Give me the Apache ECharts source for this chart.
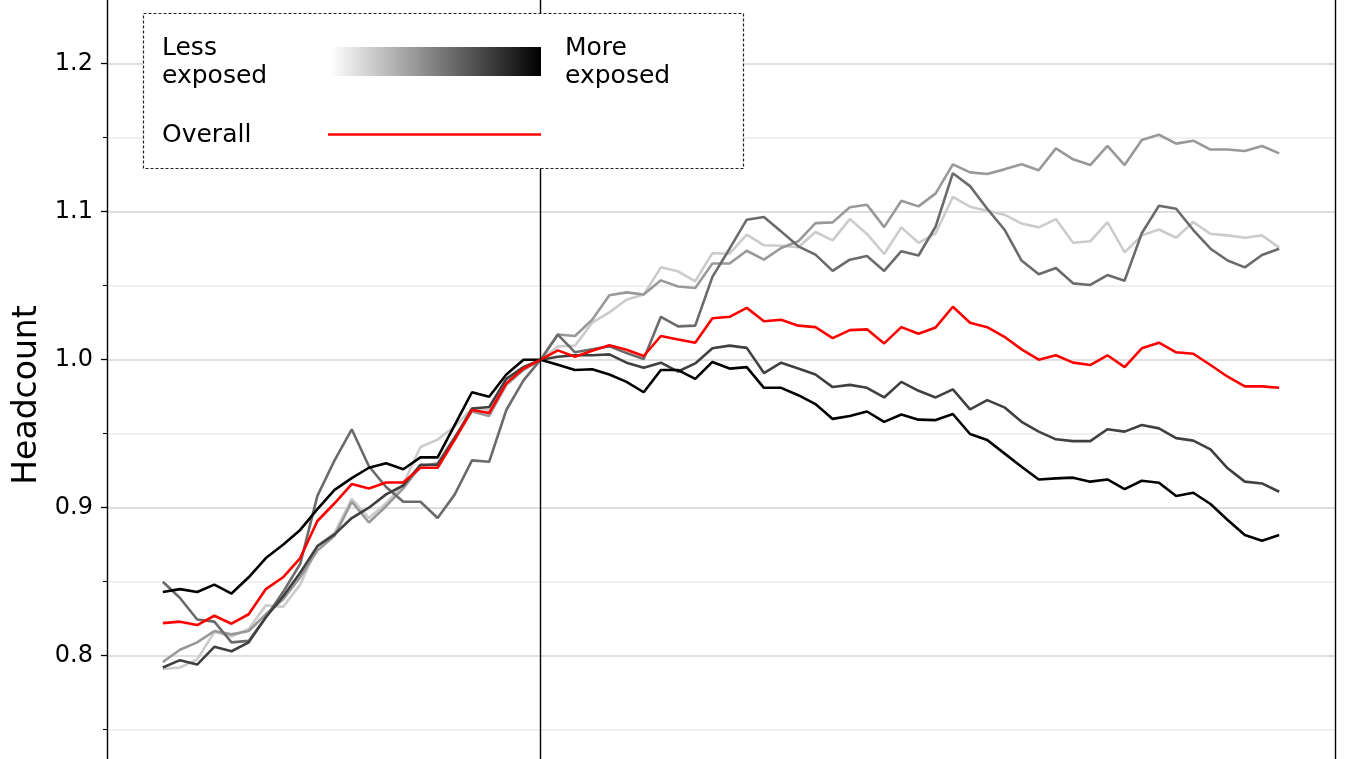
<!DOCTYPE html>
<html>
<head>
<meta charset="utf-8">
<script src="https://cdn.jsdelivr.net/npm/echarts@6/dist/echarts.min.js"></script>
<style>html,body{margin:0;padding:0;background:#fff}#c{width:1350px;height:759px}</style>
</head>
<body>
<div id="c"></div>
<script>
const periods = [-22,-21,-20,-19,-18,-17,-16,-15,-14,-13,-12,-11,-10,-9,-8,-7,-6,-5,-4,-3,-2,-1,0,
  1,2,3,4,5,6,7,8,9,10,11,12,13,14,15,16,17,18,19,20,21,22,23,24,25,26,27,28,29,30,31,32,33,34,35,36,37,38,39,40,41,42,43];

const leastExposed = [0.791,0.792,0.7975,0.816,0.813,0.818,0.834,0.833,0.848,0.874,0.883,0.906,0.893,0.903,0.916,0.941,0.946,0.955,0.967,0.966,0.986,0.995,1.0,
  1.009,1.0095,1.025,1.032,1.0405,1.044,1.0624,1.0597,1.053,1.072,1.0716,1.0845,1.0773,1.077,1.076,1.0863,1.0806,1.095,1.085,1.0714,1.0894,1.079,1.0854,1.110,1.1034,1.1007,1.098,1.092,1.0894,1.095,1.079,1.080,1.093,1.0725,1.084,1.088,1.0824,1.093,1.085,1.084,1.0824,1.084,1.0757];

const lessExposed = [0.7957,0.804,0.809,0.8167,0.8144,0.8167,0.828,0.838,0.853,0.871,0.881,0.904,0.890,0.901,0.913,0.928,0.930,0.948,0.965,0.962,0.983,0.993,1.0,
  1.017,1.016,1.027,1.0435,1.0455,1.044,1.0536,1.0495,1.0484,1.065,1.065,1.0736,1.0676,1.0755,1.080,1.0923,1.0928,1.103,1.1047,1.0896,1.1074,1.1036,1.1124,1.132,1.1266,1.1255,1.1286,1.132,1.128,1.1428,1.1354,1.1315,1.1444,1.1315,1.1484,1.152,1.146,1.148,1.142,1.142,1.141,1.1444,1.1394];

const middleExposed = [0.850,0.839,0.8245,0.823,0.809,0.810,0.826,0.843,0.862,0.908,0.932,0.953,0.928,0.914,0.904,0.904,0.893,0.909,0.932,0.931,0.966,0.986,1.0,
  1.017,1.005,1.007,1.009,1.0045,1.0005,1.029,1.0225,1.023,1.056,1.075,1.0946,1.0964,1.0867,1.0766,1.071,1.060,1.0676,1.070,1.060,1.0733,1.0704,1.090,1.126,1.1173,1.102,1.088,1.067,1.0577,1.062,1.0516,1.0505,1.0572,1.0534,1.0854,1.104,1.102,1.0876,1.075,1.067,1.0624,1.0707,1.075];

const moreExposed = [0.792,0.797,0.794,0.806,0.803,0.809,0.826,0.840,0.856,0.874,0.882,0.893,0.900,0.909,0.915,0.929,0.929,0.947,0.967,0.968,0.987,0.995,1.0,
  1.002,1.003,1.003,1.0036,0.998,0.9946,0.998,0.992,0.9975,1.0077,1.0095,1.008,0.991,0.998,0.994,0.990,0.9815,0.983,0.981,0.9745,0.985,0.979,0.9745,0.980,0.9664,0.9727,0.9678,0.958,0.9514,0.9462,0.945,0.945,0.953,0.9514,0.9559,0.9536,0.947,0.9453,0.9394,0.9266,0.9176,0.9164,0.9108];

const mostExposed = [0.843,0.845,0.843,0.848,0.842,0.853,0.866,0.875,0.885,0.899,0.912,0.920,0.927,0.930,0.926,0.934,0.934,0.956,0.978,0.975,0.990,1.000,1.000,
  0.9966,0.993,0.9935,0.990,0.985,0.978,0.993,0.993,0.987,0.9985,0.994,0.995,0.981,0.981,0.976,0.970,0.960,0.962,0.965,0.958,0.963,0.9595,0.9592,0.9633,0.9498,0.9457,0.9367,0.9277,0.9191,0.9198,0.9203,0.9176,0.9191,0.9126,0.9182,0.9169,0.9079,0.9101,0.9025,0.8917,0.8815,0.8777,0.8815];

const overall = [0.822,0.823,0.8207,0.827,0.8216,0.828,0.845,0.853,0.866,0.891,0.903,0.916,0.913,0.917,0.917,0.927,0.927,0.946,0.966,0.964,0.984,0.994,1.0,
  1.0063,1.002,1.006,1.0098,1.0067,1.0025,1.016,1.0137,1.0115,1.028,1.029,1.035,1.026,1.027,1.023,1.022,1.0146,1.020,1.0205,1.011,1.022,1.0175,1.0218,1.0358,1.025,1.022,1.0155,1.007,1.0,1.003,0.998,0.9964,1.003,0.995,1.0077,1.0115,1.005,1.004,0.9964,0.9885,0.982,0.982,0.981];

const greySeries = [
  {name: 'Least exposed', values: leastExposed, color: '#cccccc'},
  {name: 'Less exposed', values: lessExposed, color: '#999999'},
  {name: 'Middle', values: middleExposed, color: '#6b6b6b'},
  {name: 'More exposed', values: moreExposed, color: '#404040'},
  {name: 'Most exposed', values: mostExposed, color: '#000000'}
];

const FONT = 'DejaVu Sans';
const pair = v => periods.map((p, i) => [p, v[i]]);

const series = greySeries.map(s => ({
  name: s.name, type: 'line', data: pair(s.values), showSymbol: false, symbol: 'none',
  lineStyle: {color: s.color, width: 2.6}, z: 3, animation: false
}));
series.push({
  name: 'Overall', type: 'line', data: pair(overall), showSymbol: false, symbol: 'none',
  lineStyle: {color: '#ff0000', width: 2.6}, z: 4, animation: false,
  markLine: {
    silent: true, symbol: 'none', animation: false,
    label: {show: false},
    lineStyle: {color: '#000', width: 1.4, type: 'solid'},
    data: [{xAxis: 0}]
  }
});

const chart = echarts.init(document.getElementById('c'), null, {renderer: 'canvas'});
chart.setOption({
  animation: false,
  backgroundColor: '#fff',
  grid: {left: 107, right: 15, top: -84.3, bottom: -44.7, containLabel: false, outerBoundsMode: 'none'},
  xAxis: {
    type: 'value', min: -25.25, max: 46.25,
    axisLine: {show: false, onZero: false}, axisTick: {show: false}, axisLabel: {show: false}, splitLine: {show: false}
  },
  yAxis: [{
    type: 'value', min: 0.7, max: 1.3, interval: 0.1, position: 'left',
    axisLine: {show: true, onZero: false, lineStyle: {color: '#000', width: 1.4}},
    axisTick: {show: true, length: 6, lineStyle: {color: '#000', width: 1.3}},
    minorTick: {show: true, splitNumber: 2, length: 4, lineStyle: {color: '#000', width: 1}},
    axisLabel: {fontFamily: FONT, fontSize: 24, color: '#000', margin: 14,
      formatter: v => v.toFixed(1)},
    splitLine: {show: true, lineStyle: {color: '#d4d4d4', width: 1.5}},
    minorSplitLine: {show: true, lineStyle: {color: '#ececec', width: 1.5}}
  }, {
    type: 'value', min: 0.7, max: 1.3, position: 'right',
    axisLine: {show: true, onZero: false, lineStyle: {color: '#000', width: 1.4}},
    axisTick: {show: false}, axisLabel: {show: false}, splitLine: {show: false}
  }],
  series: series,
  graphic: [
    {type: 'text', z: 101, x: 27, y: 395, rotation: Math.PI / 2,
      style: {text: 'Headcount', font: '33px "DejaVu Sans"', fill: '#000', textAlign: 'center', textVerticalAlign: 'middle'}},
    {type: 'rect', z: 100, shape: {x: 143.5, y: 13.5, width: 600, height: 155},
      style: {fill: '#fff', stroke: '#222', lineWidth: 1.2, lineDash: [3, 2]}},
    {type: 'text', z: 101, x: 162, y: 34, style: {text: 'Less\nexposed', font: '25px "DejaVu Sans"', fill: '#000', lineHeight: 28, textVerticalAlign: 'top'}},
    {type: 'text', z: 101, x: 565, y: 34, style: {text: 'More\nexposed', font: '25px "DejaVu Sans"', fill: '#000', lineHeight: 28, textVerticalAlign: 'top'}},
    {type: 'text', z: 101, x: 162, y: 121, style: {text: 'Overall', font: '25px "DejaVu Sans"', fill: '#000', lineHeight: 28, textVerticalAlign: 'top'}},
    {type: 'rect', z: 101, shape: {x: 330, y: 47, width: 211, height: 29},
      style: {fill: new echarts.graphic.LinearGradient(0, 0, 1, 0, [
        {offset: 0, color: '#ffffff'}, {offset: 1, color: '#000000'}])}},
    {type: 'line', z: 101, shape: {x1: 328, y1: 134.5, x2: 541, y2: 134.5},
      style: {stroke: '#ff0000', lineWidth: 2.5}}
  ]
});
</script>
</body>
</html>
